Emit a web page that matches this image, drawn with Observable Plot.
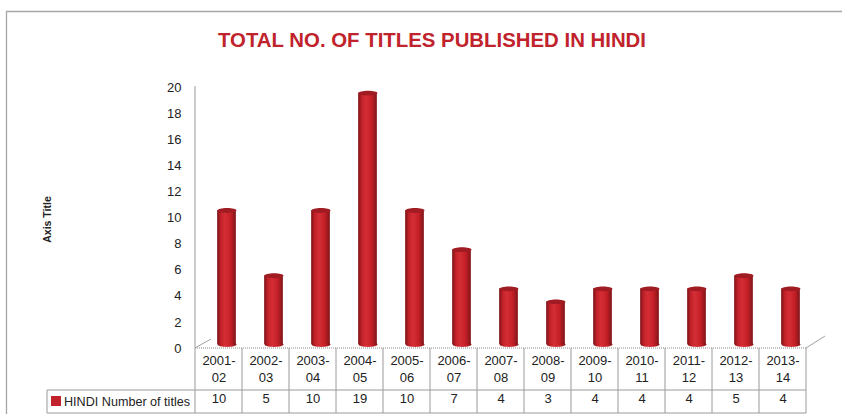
<!DOCTYPE html>
<html>
<head>
<meta charset="utf-8">
<script src="https://cdn.jsdelivr.net/npm/d3@7"></script>
<script src="https://cdn.jsdelivr.net/npm/@observablehq/plot@0.6"></script>
<style>
  html, body { margin: 0; padding: 0; background: #fff; }
  svg { display: block; }
</style>
</head>
<body>
<div id="chart"></div>
<script>
const categories = ["2001-02","2002-03","2003-04","2004-05","2005-06","2006-07","2007-08","2008-09","2009-10","2010-11","2011-12","2012-13","2013-14"];
const values = [10, 5, 10, 19, 10, 7, 4, 3, 4, 4, 4, 5, 4];
const yTicks = [0, 2, 4, 6, 8, 10, 12, 14, 16, 18, 20];
const titleText = "TOTAL NO. OF TITLES PUBLISHED IN HINDI";
const seriesName = "HINDI Number of titles";
const axisTitle = "Axis Title";

const data = categories.map((c, i) => ({cat: c, v: values[i]}));
const FONT = "'Liberation Sans', Arial, sans-serif";
const GRID = "#9a9a9a";
const FS = 13;

const ellipse = {
  draw(ctx) {
    const rx = 9.5, ry = 2.4, k = 0.5523;
    ctx.moveTo(-rx, 0);
    ctx.bezierCurveTo(-rx, -ry * k, -rx * k, -ry, 0, -ry);
    ctx.bezierCurveTo(rx * k, -ry, rx, -ry * k, rx, 0);
    ctx.bezierCurveTo(rx, ry * k, rx * k, ry, 0, ry);
    ctx.bezierCurveTo(-rx * k, ry, -rx, ry * k, -rx, 0);
    ctx.closePath();
  }
};

const plot = Plot.plot({
  width: 842,
  height: 414,
  marginLeft: 193,
  marginRight: 34,
  marginTop: 87,
  marginBottom: 66,
  style: {fontFamily: FONT, fontSize: FS + "px", color: "#222", background: "#fff", overflow: "visible"},
  x: {domain: categories, padding: 0, axis: null},
  y: {domain: [0, 20], ticks: yTicks},
  marks: [
    Plot.axisY({ticks: yTicks, tickSize: 0, tickPadding: 12, label: null, fontSize: FS}),
    Plot.dot(data, {x: "cat", y: 0, symbol: ellipse, fill: "url(#cyl)", dx: 8, dy: -4}),
    Plot.barY(data, {x: "cat", y: "v", fill: "url(#cyl)", insetLeft: 14.15, insetRight: 14.15, insetBottom: -3.5, dx: 8, dy: -7.5}),
    Plot.dot(data, {x: "cat", y: "v", symbol: ellipse, fill: "#a01b22", dx: 8, dy: -7.5}),
    Plot.text(categories, {x: d => d, frameAnchor: "bottom", dy: 16, text: d => d.split("-")[0] + "-", fontSize: FS, fill: "#222"}),
    Plot.text(categories, {x: d => d, frameAnchor: "bottom", dy: 33, text: d => d.split("-")[1], fontSize: FS, fill: "#222"}),
    Plot.text(data, {x: "cat", frameAnchor: "bottom", dy: 54, text: d => String(d.v), fontSize: FS, fill: "#222"})
  ]
});

const svg = d3.select(plot);
const defs = svg.insert("defs", ":first-child");
const g = defs.append("linearGradient").attr("id", "cyl").attr("x1", 0).attr("x2", 1).attr("y1", 0).attr("y2", 0);
[[0, "#7a1216"], [0.2, "#c4222a"], [0.42, "#d42d35"], [0.72, "#c41f27"], [1, "#7f1519"]].forEach(([o, c]) =>
  g.append("stop").attr("offset", o).attr("stop-color", c));

const xs = plot.scale("x"), ys = plot.scale("y");
const bw = xs.bandwidth;
const left = xs.apply(categories[0]);
const right = xs.apply(categories[categories.length - 1]) + bw;
const y0 = ys.apply(0);
const yTop = ys.apply(20);
const row1 = y0 + 42, row2 = y0 + 65;

const deco = svg.append("g").attr("fill", "none");
deco.append("path").attr("d", "M6.5,420V11.5H850").attr("stroke", "#a6a6a6").attr("stroke-width", 1.3);
deco.append("line").attr("x1", left).attr("x2", left).attr("y1", yTop - 1).attr("y2", row2).attr("stroke", GRID);
deco.append("line").attr("x1", left).attr("x2", right).attr("y1", y0).attr("y2", y0).attr("stroke", "#8a8a8a").attr("stroke-dasharray", "1,1");
deco.append("line").attr("x1", left).attr("y1", y0).attr("x2", left + 16).attr("y2", y0 - 9).attr("stroke", "#a0a0a0");
deco.append("line").attr("x1", right).attr("y1", y0).attr("x2", right + 19).attr("y2", y0 - 12).attr("stroke", "#a0a0a0");
categories.forEach((c) => {
  const xx = xs.apply(c) + bw;
  deco.append("line").attr("x1", xx).attr("x2", xx).attr("y1", y0).attr("y2", row2).attr("stroke", GRID);
});
deco.append("line").attr("x1", 47).attr("x2", right).attr("y1", row1).attr("y2", row1).attr("stroke", GRID);
deco.append("line").attr("x1", 47).attr("x2", right).attr("y1", row2).attr("y2", row2).attr("stroke", GRID);
deco.append("line").attr("x1", 47).attr("x2", 47).attr("y1", row1).attr("y2", row2).attr("stroke", GRID);

svg.append("rect").attr("x", 51).attr("y", row1 + 6).attr("width", 10).attr("height", 10).attr("fill", "#c0232b");
svg.append("text").attr("x", 64).attr("y", row1 + 15.5).attr("text-anchor", "start").attr("font-family", FONT)
  .attr("font-size", FS).attr("fill", "#222").attr("textLength", 126).attr("lengthAdjust", "spacingAndGlyphs").text(seriesName);
svg.append("text").attr("transform", `translate(51,${(y0 + yTop) / 2 + 2}) rotate(-90)`).attr("text-anchor", "middle")
  .attr("font-family", FONT).attr("font-size", 10.5).attr("font-weight", "bold").attr("fill", "#222").text(axisTitle);
svg.append("text").attr("x", 432).attr("y", 47).attr("text-anchor", "middle").attr("font-family", FONT)
  .attr("font-size", 20).attr("font-weight", "bold").attr("fill", "#c0232b")
  .attr("textLength", 428).attr("lengthAdjust", "spacingAndGlyphs").text(titleText);

document.getElementById("chart").appendChild(plot);
</script>
</body>
</html>
